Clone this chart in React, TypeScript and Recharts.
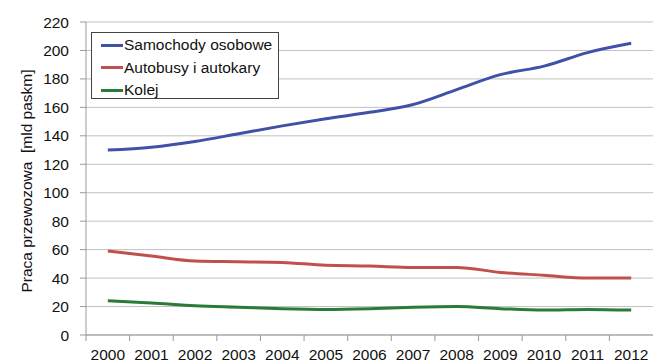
import { LineChart, Line, XAxis, YAxis, CartesianGrid } from "recharts";

const years = ["2000", "2001", "2002", "2003", "2004", "2005", "2006", "2007", "2008", "2009", "2010", "2011", "2012"];
const samochody = [130, 132, 136, 141.5, 147, 152, 156.5, 162, 172.5, 183, 189, 198.5, 205];
const autobusy = [59, 55.5, 52, 51.5, 51, 49, 48.5, 47.5, 47.5, 44, 42, 40, 40];
const kolej = [24, 22.5, 20.5, 19.5, 18.5, 18, 18.5, 19.5, 20, 18.5, 17.5, 18, 17.5];
const yTicks = [0, 20, 40, 60, 80, 100, 120, 140, 160, 180, 200, 220];

const series = [
  { key: "samochody", name: "Samochody osobowe", color: "#4052A8" },
  { key: "autobusy", name: "Autobusy i autokary", color: "#C0504D" },
  { key: "kolej", name: "Kolej", color: "#2A7B3A" },
];

const data = years.map((year, i) => ({
  year,
  samochody: samochody[i],
  autobusy: autobusy[i],
  kolej: kolej[i],
}));

const FONT = "'Liberation Sans', Arial, sans-serif";
const W = 653;
const H = 362;
const LEFT = 86;

const band = (W - LEFT) / years.length;

function XTick(props: any) {
  const { x, y, payload } = props;
  return (
    <g>
      <line x1={x - band / 2} y1={y} x2={x - band / 2} y2={y + 6} stroke="#999" />
      <text x={x} y={y + 25} textAnchor="middle" fontSize={15.5} fontFamily={FONT} fill="#111">
        {payload.value}
      </text>
    </g>
  );
}

function LegendBox() {
  return (
    <div
      style={{
        position: "absolute",
        left: 91,
        top: 32,
        width: 188,
        height: 67,
        border: "1px solid #444",
        background: "#fff",
        fontFamily: FONT,
        fontSize: 15.5,
        color: "#111",
        padding: "1px 0 0 9px",
        boxSizing: "border-box",
      }}
    >
      {series.map((s) => (
        <div key={s.key} style={{ display: "flex", alignItems: "center", height: 22.5 }}>
          <div style={{ width: 22, height: 3, background: s.color }} />
          <span style={{ marginLeft: 1 }}>{s.name}</span>
        </div>
      ))}
    </div>
  );
}

export default function App() {
  return (
    <div style={{ position: "absolute", left: 0, top: 0, width: W, height: H, background: "#fff" }}>
      <LineChart width={W} height={H} data={data} margin={{ top: 22, right: 0, left: 0, bottom: 0 }}>
        <CartesianGrid vertical={false} stroke="#c0c0c0" />
        <XAxis
          dataKey="year"
          height={27}
          tickLine={false}
          tickSize={0}
          tickMargin={0}
          axisLine={{ stroke: "#999" }}
          tick={<XTick />}
          interval={0}
          padding={{ left: band / 2, right: band / 2 }}
        />
        <YAxis
          width={LEFT}
          domain={[0, 220]}
          ticks={yTicks}
          interval={0}
          tickSize={6}
          tickMargin={11}
          axisLine={{ stroke: "#999" }}
          tickLine={{ stroke: "#999" }}
          tick={{ fontSize: 15.5, fontFamily: FONT, fill: "#111" }}
          label={{
            content: () => (
              <text
                transform="translate(32, 181) rotate(-90)"
                textAnchor="middle"
                fontSize={15.5}
                fontFamily={FONT}
                fill="#111"
                style={{ whiteSpace: "pre" }}
              >
                Praca przewozowa  [mld paskm]
              </text>
            ),
          }}
        />
        {series.map((s) => (
          <Line
            key={s.key}
            type="monotone"
            dataKey={s.key}
            name={s.name}
            stroke={s.color}
            strokeWidth={3}
            dot={false}
            isAnimationActive={false}
          />
        ))}
      </LineChart>
      <LegendBox />
    </div>
  );
}
